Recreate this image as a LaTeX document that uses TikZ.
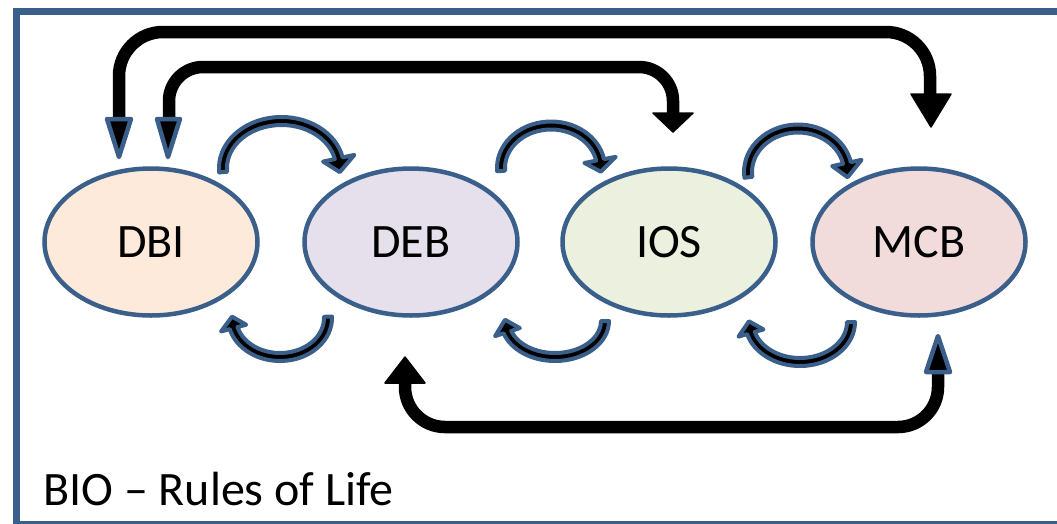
\documentclass[tikz,border=0pt]{standalone}
\usepackage{fontspec}
\setmainfont{Carlito}
\usetikzlibrary{shapes.geometric}
\definecolor{frameblue}{RGB}{58,95,139}
\definecolor{dbifill}{RGB}{253,234,218}
\definecolor{debfill}{RGB}{229,224,236}
\definecolor{iosfill}{RGB}{235,241,222}
\definecolor{mcbfill}{RGB}{242,220,219}
\tikzset{
  ell/.style={ellipse, draw=frameblue, line width=4.5, minimum width=213, minimum height=147, inner sep=0, font=\fontsize{48}{56}\selectfont},
  bigline/.style={line width=12.5, black, rounded corners=40},
  blackhead/.style={fill=black, draw=black, line width=1.5, line join=round},
  bluehead/.style={fill=black, draw=frameblue, line width=4.5, line join=round},
  band/.style={fill=black, draw=frameblue, line width=4, line join=round}
}
% cx, cy, rx, ry, start angle, end angle, tip angle, head half width
\newcommand{\bandarrow}[8]{%
  \filldraw[band]
    ({#1+(#3+4)*cos(#5)},{#2+(#4+4)*sin(#5)})
    arc[start angle=#5, end angle=#6, x radius=#3+4, y radius=#4+4]
    -- ({#1+(#3+#8)*cos(#6)},{#2+(#4+#8)*sin(#6)})
    -- ({#1+#3*cos(#7)},{#2+#4*sin(#7)})
    -- ({#1+(#3-#8)*cos(#6)},{#2+(#4-#8)*sin(#6)})
    -- ({#1+(#3-4)*cos(#6)},{#2+(#4-4)*sin(#6)})
    arc[start angle=#6, end angle=#5, x radius=#3-4, y radius=#4-4]
    -- cycle;}
\begin{document}
\begin{tikzpicture}[x=1pt,y=-1pt]
\useasboundingbox (0,0) rectangle (1057,523);
\begin{scope}
  \clip (0,0) rectangle (1057,523);
  \draw[frameblue, line width=7] (16,11.5) rectangle (1080,524);
\end{scope}

% ellipses
\node[ell, fill=dbifill] (dbi) at (151,242) {DBI};
\node[ell, fill=debfill] (deb) at (411,242) {DEB};
\node[ell, fill=iosfill] (ios) at (669,242) {IOS};
\node[ell, fill=mcbfill] (mcb) at (919,242) {MCB};

% endpoints of the big connectors
\coordinate (o1) at (119,140);
\coordinate (o2) at (930,97);
\coordinate (i1) at (169,140);
\coordinate (i2) at (673,114);
\coordinate (b1) at (938,350);
\coordinate (b2) at (405,384);

% outer top arrow DBI <-> MCB
\draw[bigline, rounded corners=44] (o1) -- (o1 |- 0,32) -- (o2 |- 0,32) -- (o2);
\filldraw[blackhead] (911,94) -- (951,94) -- (931,127) -- cycle;
\filldraw[bluehead] (107,119) -- (131,119) -- (119,157) -- cycle;

% inner top arrow DBI <-> IOS
\draw[bigline, rounded corners=34] (i1) -- (i1 |- 0,67) -- (i2 |- 0,67) -- (i2);
\filldraw[blackhead] (653,113) -- (693,113) -- (673,132) -- cycle;
\filldraw[bluehead] (157,119) -- (180,119) -- (168,157) -- cycle;

% bottom arrow MCB <-> DEB
\draw[bigline] (b1) -- (b1 |- 0,427) -- (b2 |- 0,427) -- (b2);
\filldraw[blackhead] (385,383) -- (425,383) -- (405,357) -- cycle;
\filldraw[bluehead] (926,372) -- (950,372) -- (938,336) -- cycle;

% small curved arrows (top)
\bandarrow{281.5}{168}{58.5}{47}{175}{348}{365}{16}
\bandarrow{551}{168}{50}{42.5}{176}{349}{365}{16}
\bandarrow{798}{172}{50}{43.5}{173}{348}{367}{15}
% small curved arrows (bottom)
\bandarrow{280}{318}{48}{39}{-2}{165}{182}{13}
\bandarrow{555}{321}{50}{36}{0}{162}{182}{13}
\bandarrow{800}{322}{51}{40}{0}{164}{181}{13}

% caption
\node[anchor=base west, inner sep=0, font=\fontsize{48}{56}\selectfont] (cap) at (43,505) {BIO – Rules of Life};
\end{tikzpicture}
\end{document}
